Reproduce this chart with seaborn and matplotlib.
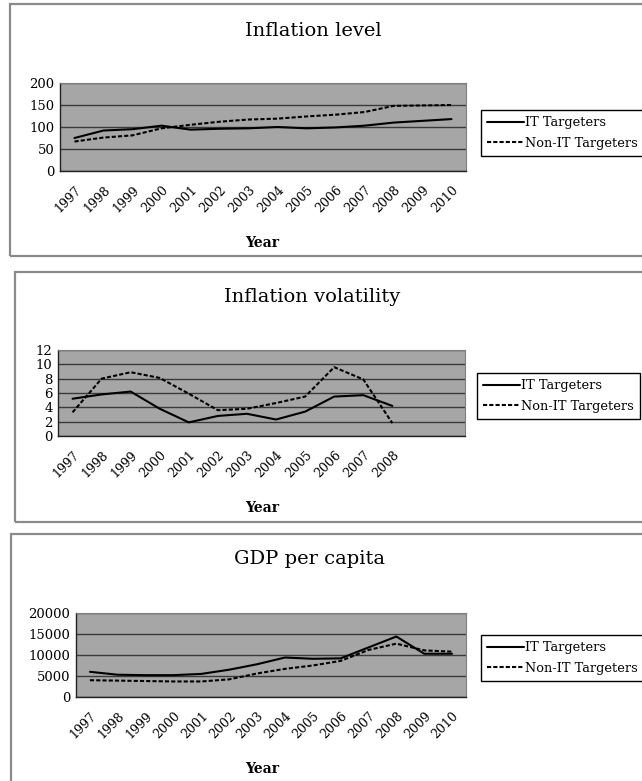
import pandas as pd
import matplotlib
matplotlib.use("Agg")
import matplotlib.pyplot as plt
from matplotlib.patches import Rectangle
import seaborn as sns

sns.set_style("white")
plt.rcParams['font.family'] = ['DejaVu Serif']
plt.rcParams['text.color'] = 'black'
plt.rcParams['xtick.color'] = 'black'
plt.rcParams['ytick.color'] = 'black'

years = [str(y) for y in range(1997, 2011)]
years_vol = years[:12]

level_it = [75, 92, 95, 103, 94, 96, 97, 100, 97, 99, 103, 110, 114, 118]
level_non = [67, 76, 81, 97, 105, 112, 117, 119, 124, 128, 134, 148, 149, 150]

vol_it = [5.2, 5.8, 6.2, 3.8, 1.9, 2.8, 3.1, 2.3, 3.4, 5.5, 5.7, 4.2]
vol_non = [3.3, 8.0, 8.9, 8.1, 5.9, 3.6, 3.8, 4.6, 5.5, 9.6, 7.9, 1.8]

gdp_it = [6000, 5300, 5200, 5200, 5500, 6500, 7800, 9400, 9100, 9200, 11800, 14400, 10300, 10300]
gdp_non = [4000, 3900, 3800, 3700, 3700, 4200, 5600, 6700, 7500, 8600, 11200, 12700, 11100, 10800]

W, H = 642, 781
fig = plt.figure(figsize=(W / 100, H / 100), dpi=100)

panels = [
    # title, labels, it, non, yticks, axes box (px), frame box (px), title xy, Year y, legend left/center y
    ("Inflation level", years, level_it, level_non, [0, 50, 100, 150, 200],
     (60, 83, 466, 171), (10, 4, 660, 256), (313, 31), 243, (481, 133)),
    ("Inflation volatility", years_vol, vol_it, vol_non, list(range(0, 13, 2)),
     (58, 350, 465, 436), (15, 272, 660, 522), (312, 297), 508, (477, 396)),
    ("GDP per capita", years, gdp_it, gdp_non, [0, 5000, 10000, 15000, 20000],
     (76, 613, 466, 697), (11, 534, 660, 800), (310, 559), 769, (481, 658)),
]


def fx(px):
    return px / W


def fy(py):
    return 1 - py / H


for title, labels, it, non, yticks, box, frame, txy, xy, leg in panels:
    x0, y0, x1, y1 = frame
    fig.patches.append(Rectangle((fx(x0), fy(y1)), fx(x1 - x0), (y1 - y0) / H,
                                 transform=fig.transFigure, fill=False,
                                 edgecolor='#8a8a8a', linewidth=1.6, zorder=0))

    l, t, r, b = box
    ax = fig.add_axes([fx(l), fy(b), fx(r - l), (b - t) / H])
    ax.set_facecolor('#a6a6a6')

    df = pd.DataFrame({'Year': labels, 'IT': it, 'Non': non})
    df['pos'] = range(len(df))
    sns.lineplot(data=df, x='pos', y='IT', ax=ax, color='black', linewidth=1.5,
                 label='IT Targeters')
    sns.lineplot(data=df, x='pos', y='Non', ax=ax, color='black', linewidth=1.5,
                 linestyle=(0, (2, 1)), label='Non-IT Targeters')

    ax.set_xlim(-0.5, 13.5)
    ax.set_ylim(yticks[0], yticks[-1])
    ax.set_yticks(yticks)
    ax.set_yticklabels([str(v) for v in yticks], fontsize=9.5)
    ax.yaxis.grid(True, color='#3a3a3a', linewidth=1.0)
    ax.set_axisbelow(True)

    ax.set_xticks(range(len(labels)))
    ax.set_xticklabels(labels, rotation=45, ha='right', rotation_mode='anchor', fontsize=9)
    ax.tick_params(axis='x', which='major', length=0, pad=9)
    ax.set_xticks([i + 0.5 for i in range(13)], minor=True)
    ax.tick_params(axis='x', which='minor', length=4, direction='in', color='black')
    ax.tick_params(axis='y', length=0, pad=4)
    ax.set_xlabel('')
    ax.set_ylabel('')

    for side in ['top', 'right']:
        ax.spines[side].set_color('#7f7f7f')
        ax.spines[side].set_linewidth(0.8)
    for side in ['left', 'bottom']:
        ax.spines[side].set_color('#222222')
        ax.spines[side].set_linewidth(1.0)

    ax.legend(loc='center left', bbox_to_anchor=(fx(leg[0]), fy(leg[1])),
              bbox_transform=fig.transFigure, frameon=True, fancybox=False,
              edgecolor='black', framealpha=1, fontsize=9.3, handlelength=2.8,
              handletextpad=0.1, borderpad=0.5, labelspacing=0.55,
              borderaxespad=0)

    fig.text(fx(txy[0]), fy(txy[1]), title, ha='center', va='center', fontsize=14)
    fig.text(fx(262), fy(xy), 'Year', ha='center', va='center', fontsize=10,
             fontweight='bold')

fig.savefig('out.png', dpi=100)
